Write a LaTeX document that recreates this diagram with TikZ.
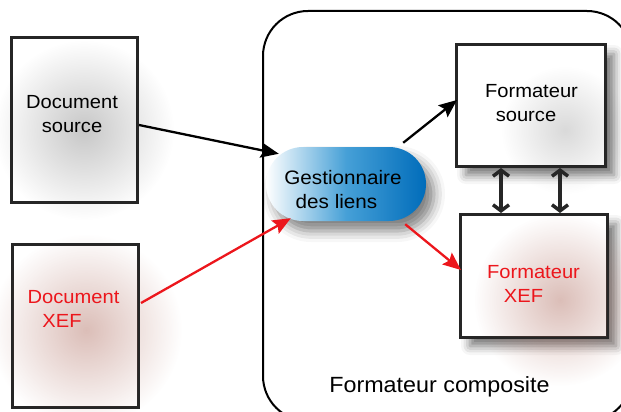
\documentclass[tikz,border=0pt]{standalone}
\usepackage{fontspec}
\setmainfont{Liberation Sans}[FakeStretch=1.06]
\usetikzlibrary{arrows.meta,shadows.blur,fadings,calc}
\definecolor{xefred}{RGB}{236,22,28}
\definecolor{linkblue}{RGB}{0,108,186}
\definecolor{midblue}{RGB}{70,160,215}
\definecolor{hazebrown}{RGB}{170,100,85}
\tikzfading[name=haze, inner color=transparent!0, outer color=transparent!100]
\begin{document}
\begin{tikzpicture}[x=1pt,y=-1pt,
  box/.style={draw=black!85, line width=2pt, fill=white, inner sep=0pt},
  softshadow/.style={blur shadow={shadow xshift=9pt, shadow yshift=-9pt,
      shadow blur radius=9pt, shadow opacity=55}},
  lbl/.style={font=\fontsize{19}{24}\selectfont, align=center, inner sep=0pt},
  blkarrow/.style={line width=2.3pt, black, -{Stealth[length=18pt,width=15pt,inset=3pt]}},
  redarrow/.style={line width=2.3pt, xefred, -{Stealth[length=18pt,width=15pt,inset=3pt]}},
  dblarrow/.style={line width=3.5pt, black!85,
      {Straight Barb[length=6pt,width=16pt]}-{Straight Barb[length=6pt,width=16pt]}}]
\useasboundingbox (0,0) rectangle (621,412);
\clip (0,0) rectangle (621,412);

% composite formatter frame
\draw[line width=2pt, rounded corners=45pt] (263,11) rectangle (632,421);

% boxes
\node[box, minimum width=125pt, minimum height=163pt] (docsrc) at (74.5,120) {};
\node[box, minimum width=125pt, minimum height=162pt] (docxef) at (75.5,326) {};
\node[box, softshadow, minimum width=148pt, minimum height=121pt] (fsrc) at (531,105.5) {};
\node[box, softshadow, minimum width=146pt, minimum height=122pt] (fxef) at (534,276) {};

% link manager
\node[draw=none, rounded corners=37pt, minimum width=160pt, minimum height=74pt,
      inner sep=0pt, left color=white, right color=linkblue, middle color=midblue,
      blur shadow={shadow xshift=8pt, shadow yshift=-10pt, shadow blur radius=11pt,
      shadow opacity=50}] (gest) at (346,184) {};

% soft haze inside the boxes
\fill[black, opacity=0.22, path fading=haze] (84,130) circle (90pt);
\fill[hazebrown, opacity=0.42, path fading=haze] (86,330) circle (96pt);
\fill[black, opacity=0.15, path fading=haze] (565,130) circle (64pt);
\fill[hazebrown, opacity=0.42, path fading=haze] (560,300) circle (86pt);

% redraw box outlines above the haze
\foreach \b in {docsrc,docxef,fsrc,fxef}
  \draw[draw=black!85, line width=2pt] (\b.north west) rectangle (\b.south east);

% labels
\node[lbl] (docsrctxt) at (72,114.2) {Document\\source};
\node[lbl, text=xefred] (docxeftxt) at (73.5,309.2) {Document\\XEF\hspace*{23pt}};
\node[lbl] (fsrctxt) at (531.5,103.5) {Formateur\\source\hspace*{11pt}};
\node[lbl, text=xefred] (fxeftxt) at (533.5,283.7) {Formateur\\XEF\hspace*{20pt}};
\node[lbl, font=\fontsize{19.5}{24}\selectfont] (gesttxt) at (343,189.9) {Gestionnaire\\des liens\hspace*{13pt}};
\node[inner sep=0pt, anchor=base, font=\fontsize{22}{26}\selectfont] (comptxt) at (439.5,392) {Formateur composite};

% connectors
\draw[blkarrow] ($(docsrc.east)+(1,5)$) -- ($(gest.north west)+(13,7)$);
\draw[redarrow] ($(docxef.east)+(2,-23)$) -- ($(gest.south west)+(25,-3)$);
\draw[blkarrow] ($(gest.north east)+(-23,-4)$) -- ($(fsrc.west)+(1,-5.5)$);
\draw[redarrow] ($(gest.south east)+(-21,3)$) -- ($(fxef.west)+(1,-6)$);
\draw[dblarrow] ($(fsrc.south west)+(45,1)$) -- ($(fxef.north west)+(41,-1)$);
\draw[dblarrow] ($(fsrc.south west)+(104,1)$) -- ($(fxef.north west)+(100,-1)$);
\end{tikzpicture}
\end{document}
